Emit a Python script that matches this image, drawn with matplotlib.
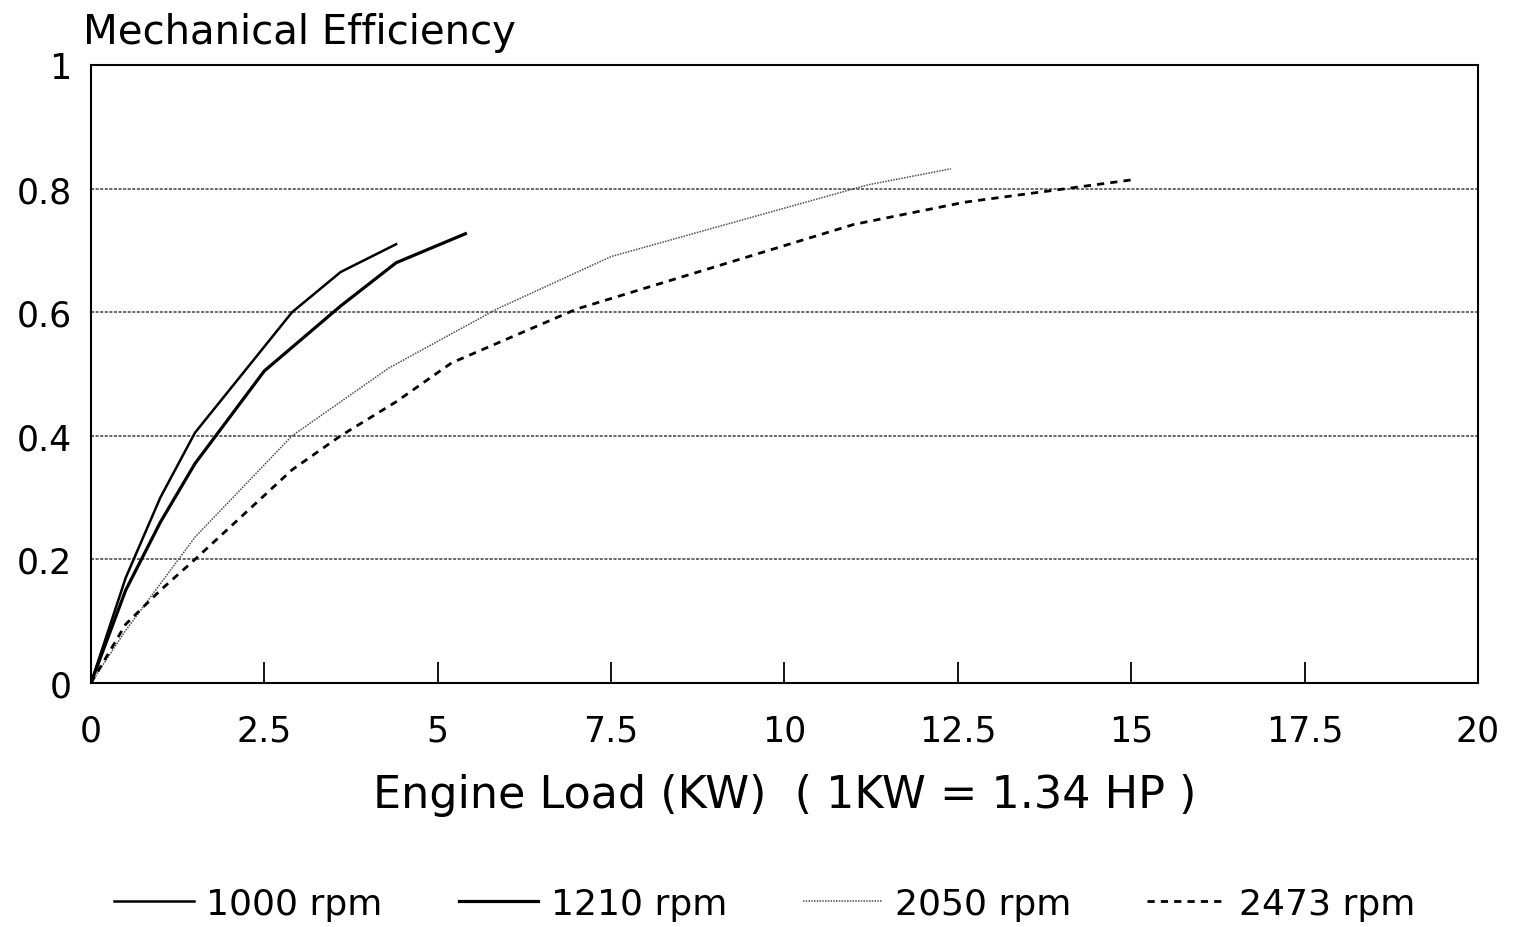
import matplotlib.pyplot as plt
from matplotlib.ticker import MultipleLocator, FuncFormatter

plt.rcParams['font.family'] = ['DejaVu Sans']

# data
load_1000 = [0, 0.5, 1.0, 1.5, 2.9, 3.6, 4.4]
eff_1000 = [0, 0.17, 0.30, 0.405, 0.60, 0.665, 0.71]

load_1210 = [0, 0.5, 1.0, 1.5, 2.5, 3.6, 4.4, 5.4]
eff_1210 = [0, 0.15, 0.26, 0.355, 0.505, 0.61, 0.68, 0.727]

load_2050 = [0, 0.5, 1.5, 2.9, 4.3, 5.85, 7.5, 11.2, 12.4]
eff_2050 = [0, 0.085, 0.236, 0.40, 0.51, 0.605, 0.69, 0.806, 0.832]

load_2473 = [0, 0.5, 1.0, 1.5, 2.9, 3.6, 4.4, 5.2, 7.0, 11.0, 12.6, 15.0]
eff_2473 = [0, 0.095, 0.15, 0.20, 0.345, 0.40, 0.455, 0.518, 0.605, 0.742, 0.778, 0.814]

fig = plt.figure(figsize=(15.21, 9.28), dpi=100)
ax = fig.add_axes([0.0598, 0.2629, 0.9119, 0.666])

ax.plot(load_1000, eff_1000, color='black', lw=1.8, label='1000 rpm')
ax.plot(load_1210, eff_1210, color='black', lw=2.3, label='1210 rpm')
ax.plot(load_2050, eff_2050, color='0.3', lw=1.1, ls=(0, (1, 0.8)), label='2050 rpm')
ax.plot(load_2473, eff_2473, color='black', lw=2.0, ls=(0, (2.6, 2.2)), label='2473 rpm')

ax.set_xlim(0, 20)
ax.set_ylim(0, 1)
ax.xaxis.set_major_locator(MultipleLocator(2.5))
ax.yaxis.set_major_locator(MultipleLocator(0.2))

def fmt(val, pos):
    s = f"{val:.1f}"
    return s[:-2] if s.endswith(".0") else s

ax.xaxis.set_major_formatter(FuncFormatter(fmt))
ax.yaxis.set_major_formatter(FuncFormatter(fmt))

ax.tick_params(axis='x', direction='in', length=15, width=1.3, pad=22, labelsize=25)
ax.tick_params(axis='y', length=0, pad=14, labelsize=25)

for g in [0.2, 0.4, 0.6, 0.8]:
    ax.axhline(g, color='0.25', lw=1.1, ls=(0, (2, 1)), zorder=0)

for sp in ax.spines.values():
    sp.set_linewidth(1.5)

ax.set_xlabel('Engine Load (KW)  ( 1KW = 1.34 HP )', fontsize=32, labelpad=18)

fig.text(83 / 1521, 1 - 44 / 928, 'Mechanical Efficiency', fontsize=29,
         ha='left', va='baseline')

fig.legend(loc='center', bbox_to_anchor=(765 / 1521, 1 - 905 / 928), ncol=4,
           frameon=False, fontsize=26, handlelength=2.2, handletextpad=0.35,
           columnspacing=2.1)

plt.savefig('out.png', dpi=100)
